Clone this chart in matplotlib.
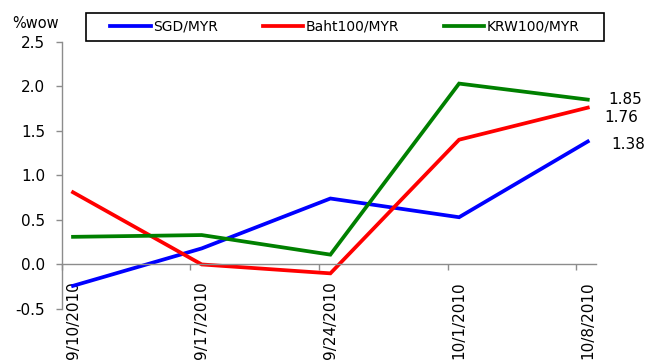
import matplotlib
matplotlib.use("Agg")
import matplotlib.pyplot as plt
from matplotlib.patches import Rectangle

# ── data ──────────────────────────────────────────
dates = ["9/10/2010", "9/17/2010", "9/24/2010", "10/1/2010", "10/8/2010"]
sgd_myr = [-0.24, 0.18, 0.74, 0.53, 1.38]
baht_myr = [0.81, 0.0, -0.10, 1.40, 1.76]
krw_myr = [0.31, 0.33, 0.11, 2.03, 1.85]

series = [
    ("SGD/MYR", sgd_myr, "#0000FF"),
    ("Baht100/MYR", baht_myr, "#FF0000"),
    ("KRW100/MYR", krw_myr, "#008000"),
]
# end-label offsets (points)
label_offsets = {"SGD/MYR": (17, -2), "Baht100/MYR": (12, -7), "KRW100/MYR": (15, 0)}

W, H = 648, 361
fig = plt.figure(figsize=(W / 100, H / 100), dpi=100)
ax = fig.add_axes([61.7 / W, (H - 309) / H, (596 - 61.7) / W, (309 - 41.7) / H])

x = list(range(len(dates)))
handles = []
for name, vals, col in series:
    ln, = ax.plot(x, vals, color=col, linewidth=2.7, label=name,
                  solid_joinstyle="miter", clip_on=False)
    handles.append(ln)
    ax.annotate(f"{vals[-1]:.2f}", (x[-1], vals[-1]), xytext=label_offsets[name],
                textcoords="offset points", ha="left", va="center", fontsize=11)

ax.set_xlim(-0.088, 4.064)
ax.set_ylim(-0.5, 2.5)
yt = [-0.5, 0.0, 0.5, 1.0, 1.5, 2.0, 2.5]
ax.set_yticks(yt)
ax.set_yticklabels([f"{v:.1f}" for v in yt])

# labels sit on the points, tick marks just left of them
ax.set_xticks(x)
ax.set_xticklabels(dates)
ax.set_xticks([i - 0.088 for i in x], minor=True)
ax.tick_params(axis="x", which="major", length=0, pad=12, labelsize=11,
               labelrotation=90)
for lbl in ax.get_xticklabels():
    lbl.set_verticalalignment("top")
    lbl.set_horizontalalignment("center")
ax.tick_params(axis="x", which="minor", length=4, width=1, color="#8c8c8c", direction="out")
ax.tick_params(axis="y", length=4, width=1, color="#8c8c8c", pad=8, labelsize=11)

for s in ["top", "right"]:
    ax.spines[s].set_visible(False)
ax.spines["bottom"].set_position(("data", 0))
for s in ["left", "bottom"]:
    ax.spines[s].set_color("#8c8c8c")
    ax.spines[s].set_linewidth(1)

fig.text(12 / W, 1 - 28 / H, "%wow", fontsize=10.5, ha="left", va="baseline")

# legend box
fig.patches.append(Rectangle((86 / W, 1 - 41 / H), (604 - 86) / W, 28 / H,
                             transform=fig.transFigure, fill=False,
                             edgecolor="black", linewidth=1.2))
fig.legend(handles=handles, loc="center", bbox_to_anchor=(345 / W, 1 - 27 / H),
           ncol=3, frameon=False, fontsize=10, handlelength=2.9,
           handletextpad=0.2, columnspacing=3.2, borderpad=0)

fig.savefig("out.png", dpi=100)
